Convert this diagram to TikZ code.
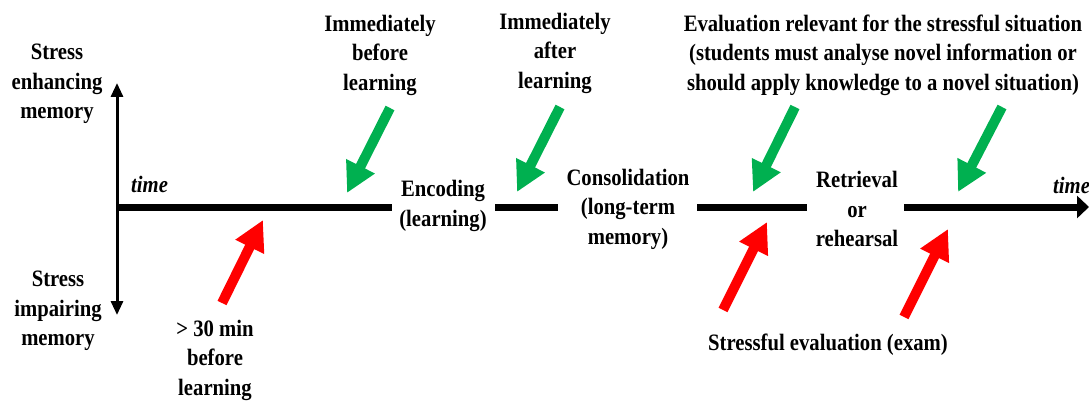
\documentclass[tikz,border=0pt]{standalone}
\usepackage{fontspec}
\setmainfont{Liberation Serif}[FakeStretch=0.88]
\usetikzlibrary{arrows.meta}
\definecolor{pgreen}{RGB}{0,176,80}
\definecolor{pred}{RGB}{255,0,0}
\begin{document}
\begin{tikzpicture}[x=1pt,y=-1pt,
  lbl/.style={align=center,inner sep=0pt,font=\fontsize{23.5}{29.5}\selectfont\bfseries},
  tl/.style={line width=7pt,line cap=butt},
  fat/.style={line width=10pt,-{Triangle[width=30pt,length=30pt]}},
  good/.style={fat,draw=pgreen,fill=pgreen},
  bad/.style={fat,draw=pred,fill=pred},
  axis/.style={line width=3pt,{Triangle[width=12pt,length=14pt]}-{Triangle[width=12pt,length=14pt]}}]
\useasboundingbox (0,0) rectangle (1089,401);
% labels
\node[lbl] (enh) at (57,84) {Stress\\enhancing\\memory};
\node[lbl] (imp) at (58,311) {Stress\\impairing\\memory};
\node[lbl] (m30) at (215,360) {> 30 min\\before\\learning};
\node[lbl] (ibl) at (380,55) {Immediately\\before\\learning};
\node[lbl] (ial) at (555,53) {Immediately\\after\\learning};
\node[lbl] (enc) at (443,206) {Encoding\\(learning)};
\node[lbl] (con) at (628,209) {Consolidation\\(long-term\\memory)};
\node[lbl] (ret) at (857,209) {Retrieval\\or\\rehearsal};
\node[lbl] (eva) at (883,55) {Evaluation relevant for the stressful situation\\(students must analyse novel information or\\should apply knowledge to a novel situation)};
\node[lbl] (sev) at (828,345) {Stressful evaluation (exam)};
\node[lbl,font=\fontsize{23.5}{29.5}\selectfont\bfseries\itshape,anchor=west] (t1) at (131,184) {time};
\node[lbl,font=\fontsize{23.5}{29.5}\selectfont\bfseries\itshape,anchor=west] (t2) at (1053,185) {time};
% axis
\coordinate (o) at (117,207);
\coordinate (atop) at (117,83);
\coordinate (abot) at (117,315);
\draw[axis] (atop) -- (abot);
% timeline
\coordinate (s1b) at (392,207);
\coordinate (s2a) at (495,207);
\coordinate (s2b) at (558,207);
\coordinate (s3a) at (697,207);
\coordinate (s3b) at (807,207);
\coordinate (s4a) at (904,207);
\coordinate (s4b) at (1089,207);
\draw[tl] (o) -- (s1b);
\draw[tl] (s2a) -- (s2b);
\draw[tl] (s3a) -- (s3b);
\draw[tl,-{Triangle[width=22pt,length=12pt]}] (s4a) -- (s4b);
% green arrows
\coordinate (g1a) at (390,108); \coordinate (g1b) at (347,193);
\coordinate (g2a) at (560,107); \coordinate (g2b) at (517,192);
\coordinate (g3a) at (795,107); \coordinate (g3b) at (753,192);
\coordinate (g4a) at (1002,107); \coordinate (g4b) at (958,192);
\draw[good] (g1a) -- (g1b);
\draw[good] (g2a) -- (g2b);
\draw[good] (g3a) -- (g3b);
\draw[good] (g4a) -- (g4b);
% red arrows
\coordinate (r1a) at (222,303); \coordinate (r1b) at (263,220);
\coordinate (r2a) at (723,310); \coordinate (r2b) at (767,222);
\coordinate (r3a) at (904,317); \coordinate (r3b) at (948,229);
\draw[bad] (r1a) -- (r1b);
\draw[bad] (r2a) -- (r2b);
\draw[bad] (r3a) -- (r3b);
\end{tikzpicture}
\end{document}
